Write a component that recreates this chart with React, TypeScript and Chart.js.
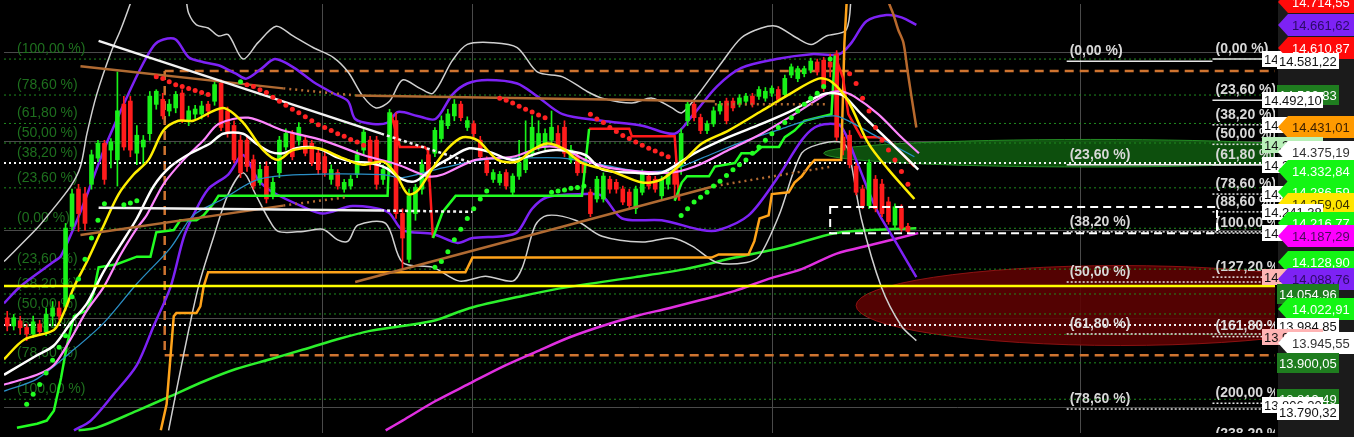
import React, { useEffect, useRef } from "react";
import { Chart, registerables } from "chart.js";

Chart.register(...registerables);

type P = [number, number];

// ---------------- candles (index 0..139) ----------------
const candleOpen = [
  14002, 13984, 13995, 13980, 13966, 13988, 13971, 14006, 14024, 14028,
  14208, 14292, 14281, 14303, 14362, 14395, 14380, 14358, 14483, 14490,
  14373, 14387, 14417, 14483, 14494, 14468, 14475, 14508, 14446, 14461,
  14461, 14483, 14490, 14530, 14468, 14435, 14402, 14402, 14358, 14307,
  14343, 14277, 14329, 14387, 14417, 14402, 14402, 14395, 14373, 14365,
  14314, 14329, 14292, 14299, 14325, 14380, 14402, 14402, 14314, 14336,
  14446, 14237, 14134, 14237, 14292, 14369, 14373, 14406, 14435, 14457,
  14483, 14431, 14439, 14402, 14358, 14314, 14307, 14329, 14285, 14321,
  14336, 14373, 14387, 14387, 14402, 14417, 14431, 14358, 14365, 14351,
  14285, 14270, 14270, 14314, 14307, 14292, 14285, 14248, 14285, 14321,
  14314, 14277, 14303, 14336, 14343, 14446, 14483, 14453, 14424, 14439,
  14468, 14490, 14490, 14483, 14490, 14501, 14501, 14497, 14508, 14516,
  14505, 14549, 14541, 14552, 14560, 14578, 14582, 14578, 14596, 14409,
  14413, 14343, 14292, 14255, 14314, 14303, 14263, 14211, 14248, 14208,
];
const candleHigh = [
  14017, 14010, 14006, 13988, 14006, 13997, 14024, 14039, 14039, 14215,
  14292, 14303, 14296, 14380, 14402, 14402, 14406, 14556, 14501, 14501,
  14435, 14413, 14512, 14516, 14508, 14494, 14512, 14516, 14479, 14481,
  14490, 14490, 14534, 14538, 14477, 14446, 14413, 14409, 14369, 14347,
  14354, 14318, 14411, 14428, 14424, 14442, 14411, 14402, 14380, 14376,
  14347, 14336, 14314, 14323, 14380, 14428, 14411, 14411, 14347, 14472,
  14464, 14248, 14292, 14303, 14358, 14380, 14431, 14457, 14472, 14494,
  14490, 14455, 14446, 14411, 14365, 14336, 14332, 14336, 14327, 14402,
  14446, 14457, 14446, 14428, 14468, 14435, 14446, 14391, 14373, 14358,
  14292, 14321, 14329, 14321, 14314, 14299, 14292, 14299, 14336, 14329,
  14321, 14321, 14336, 14347, 14428, 14490, 14490, 14461, 14446, 14477,
  14490, 14497, 14497, 14505, 14508, 14508, 14523, 14521, 14525, 14523,
  14549, 14574, 14569, 14569, 14587, 14585, 14589, 14596, 14604, 14417,
  14424, 14351, 14301, 14358, 14323, 14314, 14274, 14259, 14257, 14215,
];
const candleLow = [
  13973, 13975, 13966, 13951, 13958, 13962, 13962, 13984, 13997, 14019,
  14200, 14197, 14200, 14292, 14354, 14303, 14340, 14299, 14380, 14365,
  14347, 14347, 14402, 14472, 14450, 14457, 14464, 14442, 14435, 14450,
  14450, 14455, 14481, 14424, 14409, 14351, 14318, 14332, 14292, 14301,
  14261, 14270, 14318, 14380, 14358, 14391, 14367, 14345, 14325, 14321,
  14303, 14292, 14285, 14292, 14318, 14369, 14336, 14292, 14303, 14325,
  14226, 14112, 14127, 14222, 14281, 14310, 14365, 14398, 14428, 14446,
  14446, 14424, 14409, 14358, 14323, 14307, 14301, 14292, 14279, 14314,
  14329, 14365, 14380, 14380, 14395, 14380, 14365, 14351, 14323, 14321,
  14230, 14263, 14263, 14283, 14283, 14257, 14248, 14237, 14279, 14292,
  14285, 14270, 14292, 14270, 14325, 14435, 14446, 14417, 14417, 14433,
  14461, 14439, 14468, 14477, 14481, 14477, 14494, 14490, 14501, 14488,
  14499, 14543, 14534, 14545, 14554, 14549, 14512, 14545, 14402, 14369,
  14340, 14279, 14248, 14248, 14241, 14230, 14213, 14204, 14197, 14193,
];
const candleClose = [
  13984, 14002, 13980, 13966, 13993, 13971, 14010, 14024, 14006, 14204,
  14281, 14237, 14215, 14369, 14395, 14314, 14398, 14468, 14387, 14380,
  14413, 14402, 14501, 14512, 14457, 14483, 14505, 14446, 14468, 14472,
  14479, 14468, 14527, 14431, 14417, 14358, 14329, 14343, 14299, 14336,
  14270, 14307, 14402, 14417, 14365, 14431, 14373, 14351, 14336, 14329,
  14336, 14299, 14307, 14314, 14369, 14420, 14347, 14303, 14336, 14464,
  14237, 14182, 14277, 14296, 14347, 14318, 14424, 14446, 14461, 14483,
  14453, 14446, 14417, 14365, 14329, 14329, 14325, 14299, 14321, 14351,
  14365, 14431, 14417, 14417, 14431, 14387, 14373, 14380, 14329, 14329,
  14237, 14314, 14321, 14292, 14292, 14263, 14255, 14292, 14329, 14299,
  14292, 14314, 14325, 14303, 14417, 14483, 14453, 14424, 14439, 14468,
  14483, 14446, 14475, 14497, 14501, 14483, 14516, 14512, 14519, 14494,
  14541, 14567, 14563, 14563, 14580, 14556, 14519, 14567, 14409, 14380,
  14347, 14285, 14255, 14351, 14248, 14237, 14219, 14252, 14204, 14197,
];

// ---------------- indicator lines [barIndex, price] ----------------
const bbOuterUpper: P[] = [[-0.5,14129],[4.6,14204],[6.1,14230],[9.8,14299],[11.3,14343],[12.3,14417],[13.8,14505],[16.0,14600],[17.5,14651],[19.0,14710],[19.8,14745],[26.9,14745],[28.0,14688],[29.2,14662],[31.0,14655],[32.6,14637],[34.1,14640],[36.4,14585],[38.7,14622],[41.5,14659],[44.1,14637],[47.2,14611],[50.3,14589],[52.6,14556],[54.9,14501],[56.9,14475],[59.0,14490],[61.0,14538],[63.7,14519],[65.7,14508],[68.7,14582],[71.0,14618],[74.9,14622],[78.7,14611],[81.8,14556],[85.7,14545],[89.5,14512],[91.8,14497],[96.4,14486],[99.5,14497],[102.6,14475],[104.1,14464],[106.4,14501],[110.3,14578],[113.3,14633],[116.4,14655],[118.7,14659],[121.8,14633],[124.1,14618],[126.4,14637],[129.5,14651],[130.3,14745]];
const bbOuterLower: P[] = [[24.9,13749],[27.2,13918],[29.5,14072],[31.8,14182],[34.1,14281],[36.4,14329],[38.3,14281],[40.3,14226],[41.8,14197],[45.7,14197],[48.7,14202],[51.0,14178],[52.6,14175],[54.1,14211],[58.4,14215],[61.0,14127],[65.7,14116],[69.8,14085],[73.8,14096],[78.0,14085],[79.5,14116],[81.5,14211],[83.3,14233],[87.7,14222],[91.8,14186],[98.0,14173],[102.6,14182],[105.7,14164],[109.5,14127],[114.1,14127],[116.1,14142],[119.1,14233],[122.6,14373],[125.7,14395],[128.7,14398],[129.8,14380],[131.8,14226],[134.9,14072],[138.0,13984],[140.3,13951]];
const bbUpper: P[] = [[-0.5,14035],[2.1,14074],[7.2,14129],[8.3,14142],[11.3,14241],[14.9,14380],[17.5,14468],[20.3,14556],[22.6,14615],[24.1,14629],[26.0,14629],[28.0,14589],[30.3,14578],[32.6,14571],[35.3,14552],[36.9,14541],[39.2,14563],[41.3,14585],[44.1,14567],[47.2,14534],[50.3,14508],[52.6,14490],[53.7,14450],[56.4,14439],[58.7,14442],[60.3,14466],[63.3,14457],[66.1,14450],[68.7,14505],[71.0,14530],[74.1,14538],[78.7,14530],[81.8,14501],[85.7,14461],[91.8,14446],[98.0,14435],[103.0,14417],[105.7,14457],[109.5,14523],[113.3,14565],[118.7,14585],[124.1,14596],[128.4,14596],[130.3,14622],[132.6,14670],[135.7,14684],[138.0,14679],[140.3,14662]];
const bbLower: P[] = [[10.3,13749],[12.9,13771],[16.4,13830],[20.0,13896],[22.6,13984],[25.2,14072],[27.2,14182],[28.7,14233],[31.0,14292],[34.1,14325],[36.4,14369],[38.7,14314],[41.0,14285],[45.7,14252],[48.7,14237],[53.3,14254],[58.7,14241],[61.0,14200],[65.7,14191],[69.5,14171],[71.8,14182],[76.4,14186],[78.7,14195],[81.0,14248],[83.3,14274],[88.7,14281],[91.8,14277],[94.9,14226],[101.0,14222],[107.2,14200],[109.8,14200],[114.4,14233],[118.7,14314],[122.6,14402],[124.6,14431],[126.7,14439],[128.7,14433],[131.0,14358],[134.1,14248],[137.2,14171],[140.3,14094]];
const maYellow: P[] = [[-0.5,13909],[2.6,13953],[7.2,13975],[8.7,14013],[10.3,14072],[12.3,14129],[14.9,14211],[17.2,14281],[19.5,14325],[21.8,14358],[24.1,14424],[26.4,14446],[28.7,14446],[33.3,14475],[36.4,14442],[39.5,14380],[41.8,14358],[44.1,14380],[48.0,14384],[51.8,14362],[54.9,14347],[58.0,14354],[60.0,14325],[61.8,14281],[63.3,14288],[65.7,14340],[68.0,14384],[70.3,14409],[72.6,14402],[75.7,14358],[78.7,14354],[81.0,14380],[83.3,14395],[85.7,14384],[88.7,14351],[93.3,14332],[98.0,14307],[101.0,14314],[104.1,14351],[107.2,14395],[111.3,14424],[116.4,14468],[120.6,14505],[125.2,14541],[127.2,14534],[129.8,14490],[132.9,14395],[136.0,14336],[140.0,14270]];
const maWhite: P[] = [[-0.5,13874],[4.6,13918],[7.2,13940],[9.8,13991],[12.3,14035],[14.9,14107],[17.5,14167],[20.0,14226],[22.6,14299],[25.2,14343],[28.3,14373],[31.3,14395],[33.3,14417],[36.4,14417],[38.4,14395],[40.6,14376],[42.6,14373],[44.6,14384],[46.7,14387],[48.7,14380],[50.7,14365],[53.3,14354],[56.0,14351],[58.4,14340],[61.0,14314],[63.0,14310],[65.7,14340],[68.3,14362],[71.3,14384],[74.4,14376],[78.0,14358],[82.6,14376],[84.9,14380],[89.2,14369],[91.8,14336],[96.9,14329],[101.0,14329],[106.1,14373],[111.3,14409],[116.4,14439],[121.5,14472],[125.7,14505],[127.7,14508],[129.2,14501],[131.8,14461],[134.9,14417],[138.0,14373],[140.6,14336]];
const maPink: P[] = [[-0.5,13852],[4.6,13874],[7.2,13896],[9.8,13955],[12.3,14019],[14.9,14072],[17.5,14145],[20.0,14204],[21.5,14233],[24.1,14303],[27.2,14358],[30.3,14402],[32.6,14439],[37.2,14453],[42.6,14424],[48.7,14402],[54.9,14369],[60.3,14347],[64.9,14321],[67.2,14325],[72.3,14358],[78.0,14365],[82.6,14387],[85.7,14384],[89.2,14358],[92.9,14340],[102.1,14329],[106.1,14343],[111.3,14380],[116.4,14417],[121.5,14461],[126.7,14508],[128.7,14512],[130.7,14501],[134.4,14461],[138.0,14409],[140.7,14373]];
const maCyan: P[] = [[-0.5,13837],[4.6,13865],[9.8,13925],[14.9,13991],[20.0,14079],[25.2,14160],[28.7,14233],[33.3,14270],[38.7,14314],[45.7,14325],[58.0,14325],[61.0,14318],[67.2,14340],[73.3,14358],[79.5,14362],[85.7,14362],[91.8,14347],[98.0,14332],[102.6,14336],[107.2,14362],[113.3,14398],[119.5,14428],[124.1,14450],[127.7,14457],[129.8,14446],[134.4,14409],[140.0,14365]];
const maLongGreen: P[] = [[11.0,13749],[13.8,13755],[20.0,13793],[25.2,13826],[30.3,13859],[35.3,13887],[40.6,13909],[45.7,13931],[50.7,13953],[56.0,13973],[61.0,13984],[66.1,13997],[71.3,14024],[79.0,14050],[86.7,14072],[96.9,14094],[104.6,14112],[112.3,14138],[120.0,14162],[127.7,14193],[133.4,14200],[140.3,14204]];
const maLongMagenta: P[] = [[58.4,13749],[61.0,13771],[66.1,13815],[71.3,13854],[76.4,13892],[81.5,13925],[86.7,13958],[91.8,13984],[96.9,14006],[102.1,14024],[107.2,14043],[112.3,14063],[117.5,14090],[122.6,14112],[128.0,14147],[133.4,14167],[140.6,14193]];
const stopGreenA: P[] = [[1.5,13755],[4.6,13764],[6.1,13771],[7.2,13793],[8.3,13867],[9.2,13940],[10.3,14006],[12.3,14019],[13.3,14057],[14.1,14116],[16.9,14123],[20.0,14140],[22.1,14140],[23.0,14195],[25.7,14200],[26.7,14222],[29.2,14222],[30.3,14233],[31.8,14259],[32.6,14277],[58.7,14277],[59.2,14464]];
const stopGreenB: P[] = [[65.7,14182],[67.2,14241],[69.2,14277],[88.7,14277],[89.8,14428]];
const stopGreenC: P[] = [[103.0,14266],[104.1,14307],[104.9,14321],[108.3,14321],[109.2,14343],[112.3,14351],[113.3,14373],[115.3,14373],[116.4,14387],[119.1,14387],[120.0,14409],[121.5,14424],[123.0,14446],[127.2,14461],[127.7,14593]];
const stopRedA: P[] = [[59.2,14464],[60.6,14387],[64.4,14387],[64.9,14380],[65.7,14182]];
const stopRedB: P[] = [[89.8,14428],[96.0,14428],[96.4,14411],[103.0,14411],[103.7,14266]];
const stopRedC: P[] = [[127.7,14596],[129.0,14541],[129.8,14461],[131.8,14409],[134.4,14409],[136.0,14402],[138.0,14373],[140.0,14343]];
const stopOrange: P[] = [[23.7,13749],[24.6,13808],[25.7,14006],[26.1,14013],[29.2,14013],[29.8,14028],[30.3,14072],[31.0,14105],[70.7,14105],[71.8,14138],[108.7,14138],[109.8,14145],[114.4,14145],[115.3,14175],[116.1,14226],[117.5,14233],[118.0,14281],[120.6,14285],[121.5,14307],[122.6,14321],[123.7,14343],[124.6,14358],[128.7,14358],[129.2,14622],[129.7,14754]];
const brownFall: P[] = [[135.7,14732],[136.1,14710],[136.7,14688],[137.5,14651],[138.3,14622],[138.9,14563],[139.5,14505],[140.3,14431]];
const sarRed: P[] = [[23,14545],[24,14541],[25,14534],[26,14527],[27,14523],[28,14519],[29,14514],[30,14510],[31,14505],[37,14527],[38,14523],[39,14516],[40,14510],[41,14499],[42,14490],[43,14481],[44,14472],[45,14464],[46,14455],[47,14446],[48,14437],[49,14431],[50,14424],[51,14417],[52,14411],[53,14404],[54,14398],[55,14391],[76,14497],[77,14492],[78,14486],[79,14479],[80,14472],[81,14466],[82,14459],[83,14453],[90,14461],[91,14450],[92,14442],[93,14431],[94,14422],[95,14413],[96,14406],[97,14398],[98,14391],[99,14384],[100,14378],[101,14371],[102,14365],[130,14552],[131,14530],[132,14497],[133,14468],[134,14431],[135,14402],[136,14380],[137,14358],[138,14332],[139,14303]];
const sarGreen: P[] = [[3,13808],[4,13830],[5,13852],[6,13878],[7,13907],[8,13936],[9,13962],[10,14050],[11,14090],[12,14134],[13,14182],[14,14222],[15,14259],[18,14257],[19,14261],[20,14266],[36,14534],[66,14116],[67,14129],[68,14151],[69,14178],[70,14202],[71,14226],[72,14248],[73,14270],[74,14288],[84,14285],[85,14288],[86,14290],[87,14294],[88,14296],[89,14299],[104,14233],[105,14248],[106,14263],[107,14274],[108,14285],[109,14299],[110,14310],[111,14323],[112,14336],[113,14347],[114,14358],[115,14373],[116,14387],[117,14402],[118,14417],[119,14431],[120,14442],[121,14453],[122,14468],[123,14483],[124,14497],[125,14508],[126,14523],[127,14585]];

// trend lines
const trendWhiteSolid: P[] = [[14.1,14626],[57.7,14417]];
const trendWhiteDotted: P[] = [[57.7,14417],[71.8,14351]];
const flatWhiteSolid: P[] = [[14.1,14250],[57.7,14244]];
const flatWhiteDotted: P[] = [[57.7,14244],[71.8,14241]];
const trendBrownSolid: P[] = [[11.3,14569],[42.6,14519]];
const trendBrownDotted: P[] = [[42.6,14519],[53.8,14503]];
const flatBrownSolid: P[] = [[53.8,14503],[109.2,14490]];
const flatBrownDotted: P[] = [[109.2,14483],[126.7,14483]];
const riseBrownSolidA: P[] = [[11.3,14189],[42.6,14255]];
const riseBrownDottedA: P[] = [[42.6,14255],[52.3,14274]];
const riseBrownSolidB: P[] = [[53.7,14083],[109.2,14299]];
const riseBrownDottedB: P[] = [[109.2,14299],[127.2,14343]];

// horizontal levels
const greenFibLevels = [14585, 14504, 14440, 14396, 14351, 14295, 14204, 14112, 14056, 14011, 13965, 13901, 13819];
const leftFibTexts = ["(100,00 %)", "(78,60 %)", "(61,80 %)", "(50,00 %)", "(38,20 %)", "(23,60 %)", "(0,00 %)", "(23,60 %)", "(38,20 %)", "(50,00 %)", "(61,80 %)", "(78,60 %)", "(100,00 %)"];
const orangeDashLevels = [14558, 13918];
const orangeDashStartX = 24.3;
const whiteDotLevels = [14351, 13986];
const yellowLevel = 14074;
const midFibStart = 163.5;
const midFibZeroEnd = 186.0;
const midFibValues = [14580, 14347, 14196, 14083, 13966, 13797];
const midFibTexts = ["(0,00 %)", "(23,60 %)", "(38,20 %)", "(50,00 %)", "(61,80 %)", "(78,60 %)"];
const midFibSolid = [true, true, false, false, false, false];
const rightFibStart = 186.0;
const rightFibValues = [14585, 14492, 14437, 14393, 14347, 14281, 14241, 14193, 14094, 13960, 13810, 13718];
const rightFibTexts = ["(0,00 %)", "(23,60 %)", "(38,20 %)", "(50,00 %)", "(61,80 %)", "(78,60 %)", "(88,60 %)", "(100,00 %)", "(127,20 %)", "(161,80 %)", "(200,00 %)", "(238,20 %)"];
const rightFibSolid = [true, true, false, false, true, false, false, false, false, false, false, false];

// zones
const ellipseCx = [167.2, 171.8];
const ellipseCy = [14373, 14030];
const ellipseRx = [41.2, 40.8];
const ellipseRy = [31, 90];
const boxX = [127.0, 186.7];
const boxY = [14252, 14193];

// axis tags
const tagValues = [14584.6, 14714.55, 14661.62, 14610.87, 14581.22, 14503.83, 14492.1, 14437.19, 14431.01, 14391.37, 14375.19, 14347.55, 14332.84, 14281.06, 14286.59, 14259.04, 14241.38, 14216.77, 14193.02, 14187.29, 14128.9, 14094.17, 14088.76, 14054.96, 14022.91, 13984.85, 13959.84, 13945.55, 13900.05, 13819.49, 13806.2, 13790.32];
const tagTexts = ["14.584,60", "14.714,55", "14.661,62", "14.610,87", "14.581,22", "14.503,83", "14.492,10", "14.437,19", "14.431,01", "14.391,37", "14.375,19", "14.347,55", "14.332,84", "14.281,06", "14.286,59", "14.259,04", "14.241,38", "14.216,77", "14.193,02", "14.187,29", "14.128,90", "14.094,17", "14.088,76", "14.054,96", "14.022,91", "13.984,85", "13.959,84", "13.945,55", "13.900,05", "13.819,49", "13.806,20", "13.790,32"];

const X_MIN = -0.5;
const X_MAX = 195.65;
const Y_MIN = 13743;
const Y_MAX = 14709;
const xGridValues = [48.7, 71.8, 118.1, 165.7];
const yGridValues = [13800, 14000, 14200, 14400, 14600];

const FONT = 'Arial, "Liberation Sans", sans-serif';
const PURPLE = "#7d22f5";
const LIME = "#14f514";
const DKGREEN = "#1f7d1f";
const tagStyles: any[] = [
  { k: "fib", bg: "#ffffff", fg: "#111" },
  { k: "arrow", bg: "#ff0a0a", fg: "#fff" },
  { k: "arrow", bg: PURPLE, fg: "#2c0a66" },
  { k: "arrow", bg: "#ff0a0a", fg: "#fff" },
  { k: "box", bg: "#ffffff", fg: "#111" },
  { k: "box", bg: DKGREEN, fg: "#fff", h: 20 },
  { k: "fib", bg: "#ffffff", fg: "#111" },
  { k: "fib", bg: "#ffffff", fg: "#111" },
  { k: "arrow", bg: "#ff9a00", fg: "#3d2000" },
  { k: "fib", bg: "#b8f0b8", fg: "#111" },
  { k: "arrow", bg: "#ffffff", fg: "#333" },
  { k: "fib", bg: "#ffffff", fg: "#111" },
  { k: "arrow", bg: LIME, fg: "#fff" },
  { k: "fib", bg: "#ffffff", fg: "#111" },
  { k: "arrow", bg: LIME, fg: "#fff" },
  { k: "arrow", bg: "#ffe600", fg: "#3a3000" },
  { k: "fib", bg: "#ffffff", fg: "#111" },
  { k: "arrow", bg: LIME, fg: "#fff" },
  { k: "fib", bg: "#ffffff", fg: "#111" },
  { k: "arrow", bg: "#ff00ff", fg: "#4a0a5a" },
  { k: "arrow", bg: LIME, fg: "#fff" },
  { k: "fib", bg: "#ffb4b4", fg: "#111" },
  { k: "arrow", bg: PURPLE, fg: "#2c0a66" },
  { k: "box", bg: DKGREEN, fg: "#fff", h: 20 },
  { k: "arrow", bg: LIME, fg: "#fff" },
  { k: "box", bg: "#ffffff", fg: "#111" },
  { k: "fib", bg: "#ffb4b4", fg: "#111" },
  { k: "arrow", bg: "#ffffff", fg: "#333" },
  { k: "box", bg: DKGREEN, fg: "#fff", h: 20 },
  { k: "box", bg: DKGREEN, fg: "#fff", h: 20 },
  { k: "fib", bg: "#ffffff", fg: "#111" },
  { k: "box", bg: "#ffffff", fg: "#111" },
];

function lineDs(pts: P[], color: string, width: number, order: number, extra: any = {}) {
  return {
    type: "line",
    data: pts.map(([x, y]) => ({ x, y })),
    borderColor: color,
    borderWidth: width,
    pointRadius: 0,
    fill: false,
    tension: 0.3,
    order,
    ...extra,
  };
}
function hLine(v: number, x0: number, x1: number, color: string, width: number, order: number, dash: number[] = []) {
  return lineDs([[x0, v], [x1, v]], color, width, order, { tension: 0, borderDash: dash });
}
function straight(pts: P[], color: string, width: number, order: number, dash: number[] = []) {
  return lineDs(pts, color, width, order, { tension: 0, borderDash: dash });
}

function buildDatasets() {
  const ds: any[] = [];
  greenFibLevels.forEach((v) => ds.push(hLine(v, X_MIN, X_MAX, "#1f8c1f", 1, 100, [2, 3])));
  ds.push(hLine(orangeDashLevels[0], orangeDashStartX, X_MAX, "#cf7430", 2.5, 96, [9, 6]));
  ds.push(hLine(orangeDashLevels[1], orangeDashStartX, X_MAX, "#cf7430", 2.5, 96, [9, 6]));
  ds.push(straight([[orangeDashStartX, orangeDashLevels[0]], [orangeDashStartX, orangeDashLevels[1]]], "#cf7430", 2.5, 96, [9, 6]));
  whiteDotLevels.forEach((v) => ds.push(hLine(v, X_MIN, X_MAX, "#f4f4f4", 2, 95, [2, 3])));
  midFibValues.forEach((v, i) =>
    ds.push(hLine(v, midFibStart, i === 0 ? midFibZeroEnd : X_MAX, "#e6e6e6", 1.5, 94, midFibSolid[i] ? [] : [2, 2]))
  );
  rightFibValues.forEach((v, i) =>
    ds.push(hLine(v, rightFibStart, X_MAX, "#e6e6e6", 1.5, 94, rightFibSolid[i] ? [] : [2, 2]))
  );

  ds.push(lineDs(maLongGreen, "#2cf02c", 2.5, 60));
  ds.push(lineDs(maLongMagenta, "#e02fe0", 2.5, 60));
  ds.push(lineDs(bbOuterUpper, "#d0d0d0", 1.5, 56));
  ds.push(lineDs(bbOuterLower, "#d0d0d0", 1.5, 56));
  ds.push(lineDs(bbUpper, PURPLE, 2.5, 55));
  ds.push(lineDs(bbLower, PURPLE, 2.5, 55));

  // candles
  const upW: any[] = [], dnW: any[] = [], upB: any[] = [], dnB: any[] = [];
  candleOpen.forEach((o, i) => {
    const c = candleClose[i];
    const up = c >= o;
    (up ? upW : dnW).push({ x: i, y: [candleLow[i], candleHigh[i]] });
    (up ? upB : dnB).push({ x: i, y: [Math.min(o, c), Math.max(o, c) + 0.5] });
  });
  const bar = (data: any[], color: string, thick: number, order: number) => ({
    type: "bar", data, backgroundColor: color, borderWidth: 0, barThickness: thick, grouped: false, order,
  });
  ds.push(bar(upW, "#18f018", 1, 46));
  ds.push(bar(dnW, "#ff1c1c", 1, 46));
  ds.push(bar(upB, "#18f018", 4, 45));
  ds.push(bar(dnB, "#ff1c1c", 4, 45));

  ds.push(straight(stopOrange, "#ffa31a", 2.5, 36));
  ds.push(straight(stopGreenA, "#22ff22", 2.5, 35));
  ds.push(straight(stopGreenB, "#22ff22", 2.5, 35));
  ds.push(straight(stopGreenC, "#22ff22", 2.5, 35));
  ds.push(straight(stopRedA, "#ff1a1a", 2.5, 35));
  ds.push(straight(stopRedB, "#ff1a1a", 2.5, 35));
  ds.push(straight(stopRedC, "#ff1a1a", 2.5, 35));

  ds.push(lineDs(maCyan, "#2b8fc6", 1.3, 31));
  ds.push(lineDs(maPink, "#ff86ff", 2.2, 30));
  ds.push(lineDs(maWhite, "#ffffff", 2.5, 29));
  ds.push(lineDs(maYellow, "#ffee00", 2.5, 28));
  ds.push(lineDs(brownFall, "#b8692d", 2.5, 27));

  ds.push(straight(trendWhiteSolid, "#f2f2f2", 2.5, 20));
  ds.push(straight(trendWhiteDotted, "#f2f2f2", 2.5, 20, [3, 3]));
  ds.push(straight(flatWhiteSolid, "#f2f2f2", 2.5, 20));
  ds.push(straight(flatWhiteDotted, "#f2f2f2", 2.5, 20, [3, 3]));
  ds.push(straight(trendBrownSolid, "#b06a32", 2.5, 21));
  ds.push(straight(trendBrownDotted, "#b06a32", 2.5, 21, [2, 4]));
  ds.push(straight(flatBrownSolid, "#b06a32", 2.5, 21));
  ds.push(straight(flatBrownDotted, "#b06a32", 2.5, 21, [2, 4]));
  ds.push(straight(riseBrownSolidA, "#b06a32", 2.5, 21));
  ds.push(straight(riseBrownDottedA, "#b06a32", 2.5, 21, [2, 4]));
  ds.push(straight(riseBrownSolidB, "#b06a32", 2.5, 21));
  ds.push(straight(riseBrownDottedB, "#b06a32", 2.5, 21, [2, 4]));

  ds.push({
    type: "scatter", data: sarRed.map(([x, y]) => ({ x, y })), pointRadius: 2.5, pointBackgroundColor: "#ff2222",
    pointBorderWidth: 0, showLine: false, order: 10,
  });
  ds.push({
    type: "scatter", data: sarGreen.map(([x, y]) => ({ x, y })), pointRadius: 2.5, pointBackgroundColor: "#22ff22",
    pointBorderWidth: 0, showLine: false, order: 10,
  });

  ds.push(hLine(yellowLevel, X_MIN, X_MAX, "#ffff00", 2.5, 5));
  return ds;
}

const overlayPlugin = {
  id: "overlay",
  beforeDraw(chart: any) {
    const { ctx, width, height, chartArea } = chart;
    ctx.save();
    ctx.fillStyle = "#000";
    ctx.fillRect(0, 0, width, height);
    ctx.fillStyle = "#1b1b1b";
    ctx.fillRect(chartArea.right + 3, 0, width - chartArea.right - 3, height);
    ctx.restore();
  },
  beforeDatasetsDraw(chart: any) {
    const { ctx, chartArea } = chart;
    const xs = chart.scales.x, ys = chart.scales.y;
    ctx.save();
    ctx.beginPath();
    ctx.rect(chartArea.left, chartArea.top, chartArea.right - chartArea.left, chartArea.bottom - chartArea.top);
    ctx.clip();
    const fills = ["rgba(14,88,14,0.9)", "rgba(92,2,2,0.9)"];
    const strokes = ["rgba(40,150,40,0.9)", "rgba(150,20,20,0.9)"];
    ellipseCx.forEach((cxv, i) => {
      const cx = xs.getPixelForValue(cxv);
      const rx = Math.abs(xs.getPixelForValue(cxv + ellipseRx[i]) - cx);
      const cy = ys.getPixelForValue(ellipseCy[i]);
      const ry = Math.abs(ys.getPixelForValue(ellipseCy[i] + ellipseRy[i]) - cy);
      ctx.beginPath();
      ctx.ellipse(cx, cy, rx, ry, 0, 0, Math.PI * 2);
      ctx.fillStyle = fills[i];
      ctx.fill();
      ctx.lineWidth = 1;
      ctx.strokeStyle = strokes[i];
      ctx.stroke();
    });
    // fib texts
    ctx.textBaseline = "middle";
    ctx.font = `14px ${FONT}`;
    ctx.fillStyle = "#1e6f1e";
    leftFibTexts.forEach((t, i) => {
      ctx.fillText(t, chartArea.left + 13, ys.getPixelForValue(greenFibLevels[i]) - 10);
    });
    ctx.font = `bold 14px ${FONT}`;
    ctx.fillStyle = "#d8d8d8";
    const mx = xs.getPixelForValue(midFibStart) + 3;
    midFibTexts.forEach((t, i) => ctx.fillText(t, mx, ys.getPixelForValue(midFibValues[i]) - 10));
    const rx2 = xs.getPixelForValue(rightFibStart) + 3;
    rightFibTexts.forEach((t, i) => ctx.fillText(t, rx2, ys.getPixelForValue(rightFibValues[i]) - 10));
    ctx.restore();
  },
  afterDatasetsDraw(chart: any) {
    const { ctx, chartArea } = chart;
    const xs = chart.scales.x, ys = chart.scales.y;
    ctx.save();
    ctx.beginPath();
    ctx.rect(chartArea.left, chartArea.top, chartArea.right - chartArea.left, chartArea.bottom - chartArea.top);
    ctx.clip();
    const x0 = xs.getPixelForValue(boxX[0]), x1 = xs.getPixelForValue(boxX[1]);
    const y0 = ys.getPixelForValue(boxY[0]), y1 = ys.getPixelForValue(boxY[1]);
    ctx.strokeStyle = "#ffffff";
    ctx.lineWidth = 2;
    ctx.setLineDash([8, 5]);
    ctx.strokeRect(x0, y0, x1 - x0, y1 - y0);
    ctx.restore();
  },
  afterDraw(chart: any) {
    const { ctx, width, chartArea } = chart;
    const ys = chart.scales.y;
    const R = chartArea.right;
    ctx.save();
    ctx.font = `13px ${FONT}`;
    ctx.textBaseline = "middle";
    tagValues.forEach((v, i) => {
      const st = tagStyles[i];
      const py = Math.round(ys.getPixelForValue(v));
      if (st.k === "arrow") {
        const h = 22, tip = R + 3, b = R + 13;
        ctx.fillStyle = st.bg;
        ctx.beginPath();
        ctx.moveTo(tip, py);
        ctx.lineTo(b, py - h / 2);
        ctx.lineTo(width, py - h / 2);
        ctx.lineTo(width, py + h / 2);
        ctx.lineTo(b, py + h / 2);
        ctx.closePath();
        ctx.fill();
        ctx.fillStyle = st.fg;
        ctx.fillText(tagTexts[i], R + 17, py + 1);
      } else {
        const x0 = st.k === "fib" ? R - 13 : R + 2;
        const h = st.h || 16;
        const w = st.k === "fib" ? 61 : 62;
        ctx.fillStyle = st.bg;
        ctx.fillRect(x0, py - h / 2, w, h);
        ctx.fillStyle = st.fg;
        ctx.fillText(tagTexts[i], x0 + 2, py + 1);
      }
    });
    ctx.restore();
  },
};

export default function App() {
  const ref = useRef<HTMLCanvasElement | null>(null);
  useEffect(() => {
    const canvas = ref.current;
    if (!canvas) return;
    const chart = new Chart(canvas, {
      type: "bar",
      data: { datasets: buildDatasets() as any },
      options: {
        responsive: false,
        animation: false,
        events: [],
        layout: { padding: 0 },
        plugins: { legend: { display: false }, tooltip: { enabled: false } },
        scales: {
          x: {
            type: "linear",
            min: X_MIN,
            max: X_MAX,
            offset: false,
            position: "bottom",
            grid: { color: "#4a4a4a", lineWidth: 1, drawTicks: false, offset: false },
            border: { display: false },
            ticks: { display: false },
            afterBuildTicks: (s: any) => { s.ticks = xGridValues.map((v) => ({ value: v })); },
            afterFit: (s: any) => { s.height = 0; },
          },
          y: {
            type: "linear",
            position: "right",
            min: Y_MIN,
            max: Y_MAX,
            grid: { color: "#4a4a4a", lineWidth: 1, drawTicks: false },
            border: { display: false },
            ticks: { display: false },
            afterBuildTicks: (s: any) => { s.ticks = yGridValues.map((v) => ({ value: v })); },
            afterFit: (s: any) => { s.width = 79; },
          },
        },
      } as any,
      plugins: [overlayPlugin as any],
    });
    return () => chart.destroy();
  }, []);
  return (
    <div style={{ position: "fixed", left: 0, top: 0, width: 1354, height: 437, background: "#000" }}>
      <canvas ref={ref} width={1354} height={437} style={{ display: "block", width: 1354, height: 437 }} />
    </div>
  );
}
